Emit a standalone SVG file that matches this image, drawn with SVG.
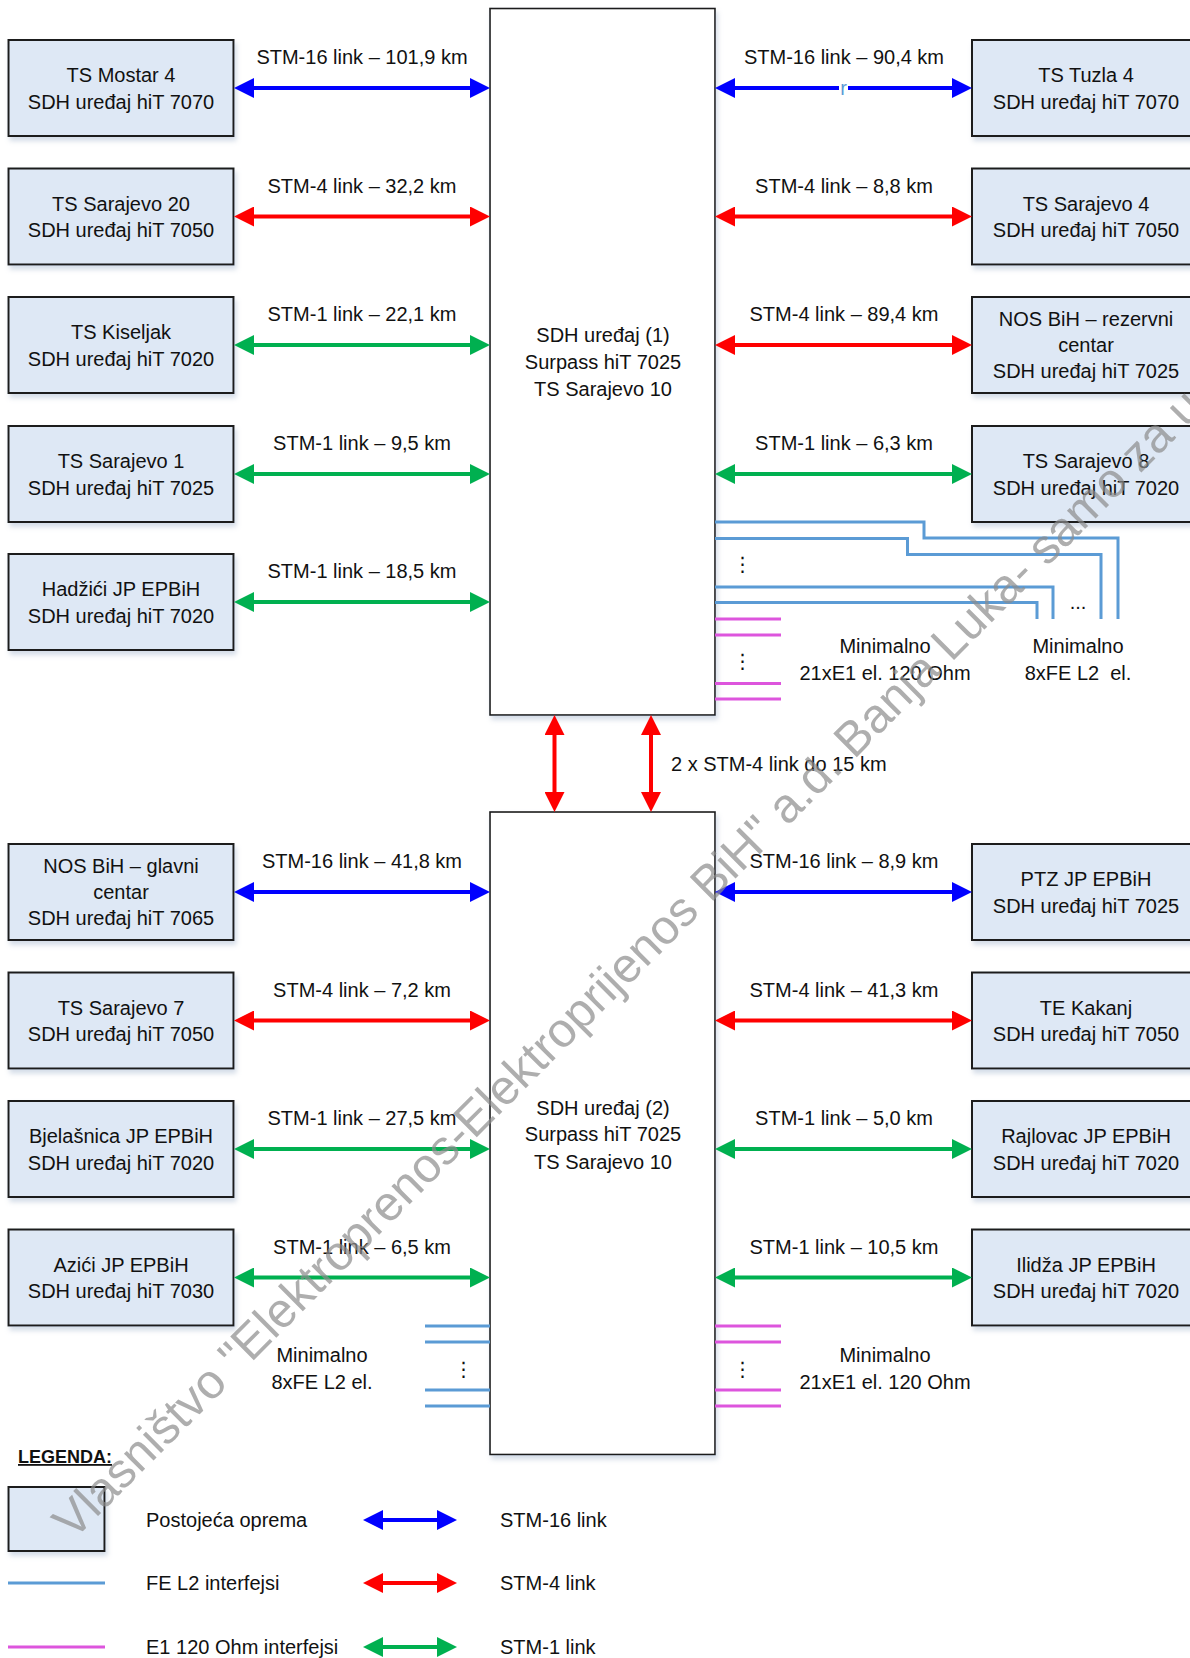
<svg xmlns="http://www.w3.org/2000/svg" width="1190" height="1658" viewBox="0 0 1190 1658">
<defs>
<style>
.bg{fill:#ffffff}
.nb{fill:#DEE8F5;stroke:#1a1a1a;stroke-width:2;filter:url(#sh)}
.big{fill:#ffffff;stroke:#1a1a1a;stroke-width:1.6;filter:url(#sh)}
.t{font-family:"Liberation Sans",Arial,sans-serif;font-size:20px;fill:#111;text-anchor:middle}
.ts{font-family:"Liberation Sans",Arial,sans-serif;font-size:20px;fill:#111}
.lg{font-family:"Liberation Sans",Arial,sans-serif;font-size:18px;font-weight:bold;fill:#111;text-decoration:underline}
.dots{font-family:"DejaVu Sans",sans-serif;font-size:20px;fill:#111;text-anchor:middle}
.ab{stroke:#0000FF;stroke-width:4;fill:none;marker-start:url(#mb);marker-end:url(#mb)}
.ar{stroke:#FF0000;stroke-width:4;fill:none;marker-start:url(#mr);marker-end:url(#mr)}
.ag{stroke:#00B050;stroke-width:4;fill:none;marker-start:url(#mg);marker-end:url(#mg)}
.fe{stroke:#5B9BD5;stroke-width:3;fill:none}
.e1{stroke:#DD55DD;stroke-width:3;fill:none}
.wm{font-family:"Liberation Sans",Arial,sans-serif;font-size:48.5px;fill:#8c8c8c;fill-opacity:0.7}
</style>
<filter id="sh" x="-10%" y="-10%" width="125%" height="130%">
<feDropShadow dx="2" dy="4" stdDeviation="2.5" flood-color="#9fb2cc" flood-opacity="0.45"/>
</filter>
<marker id="mb" viewBox="0 0 20 20" markerWidth="20" markerHeight="20" refX="2" refY="10" markerUnits="userSpaceOnUse" orient="auto-start-reverse"><path d="M0,0 L20,10 L0,20 z" fill="#0000FF"/></marker>
<marker id="mr" viewBox="0 0 20 20" markerWidth="20" markerHeight="20" refX="2" refY="10" markerUnits="userSpaceOnUse" orient="auto-start-reverse"><path d="M0,0 L20,10 L0,20 z" fill="#FF0000"/></marker>
<marker id="mg" viewBox="0 0 20 20" markerWidth="20" markerHeight="20" refX="2" refY="10" markerUnits="userSpaceOnUse" orient="auto-start-reverse"><path d="M0,0 L20,10 L0,20 z" fill="#00B050"/></marker>
</defs>
<rect class="bg" x="0" y="0" width="1190" height="1658"/>

<!-- central devices -->
<g id="sdh1">
<rect class="big" x="490" y="8.5" width="225" height="706.5"/>
<text class="t"><tspan x="603" y="342">SDH uređaj (1)</tspan><tspan x="603" y="369">Surpass hiT 7025</tspan><tspan x="603" y="396">TS Sarajevo 10</tspan></text>
</g>
<g id="sdh2">
<rect class="big" x="490" y="812" width="225" height="642.5"/>
<text class="t"><tspan x="603" y="1114.5">SDH uređaj (2)</tspan><tspan x="603" y="1141">Surpass hiT 7025</tspan><tspan x="603" y="1168.5">TS Sarajevo 10</tspan></text>
</g>

<!-- left top nodes -->
<g id="mostar4"><rect class="nb" x="8.5" y="40" width="225" height="96"/>
<text class="t"><tspan x="121" y="82">TS Mostar 4</tspan><tspan x="121" y="108.5">SDH uređaj hiT 7070</tspan></text></g>
<g id="sarajevo20"><rect class="nb" x="8.5" y="168.5" width="225" height="96"/>
<text class="t"><tspan x="121" y="210.5">TS Sarajevo 20</tspan><tspan x="121" y="237">SDH uređaj hiT 7050</tspan></text></g>
<g id="kiseljak"><rect class="nb" x="8.5" y="297" width="225" height="96"/>
<text class="t"><tspan x="121" y="339">TS Kiseljak</tspan><tspan x="121" y="365.5">SDH uređaj hiT 7020</tspan></text></g>
<g id="sarajevo1"><rect class="nb" x="8.5" y="426" width="225" height="96"/>
<text class="t"><tspan x="121" y="468">TS Sarajevo 1</tspan><tspan x="121" y="494.5">SDH uređaj hiT 7025</tspan></text></g>
<g id="hadzici"><rect class="nb" x="8.5" y="554" width="225" height="96"/>
<text class="t"><tspan x="121" y="596">Hadžići JP EPBiH</tspan><tspan x="121" y="622.5">SDH uređaj hiT 7020</tspan></text></g>

<!-- right top nodes -->
<g id="tuzla4"><rect class="nb" x="972" y="40" width="228" height="96"/>
<text class="t"><tspan x="1086" y="82">TS Tuzla 4</tspan><tspan x="1086" y="108.5">SDH uređaj hiT 7070</tspan></text></g>
<g id="sarajevo4"><rect class="nb" x="972" y="168.5" width="228" height="96"/>
<text class="t"><tspan x="1086" y="210.5">TS Sarajevo 4</tspan><tspan x="1086" y="237">SDH uređaj hiT 7050</tspan></text></g>
<g id="nos-rezervni"><rect class="nb" x="972" y="297" width="228" height="96"/>
<text class="t"><tspan x="1086" y="326">NOS BiH – rezervni</tspan><tspan x="1086" y="352">centar</tspan><tspan x="1086" y="378">SDH uređaj hiT 7025</tspan></text></g>
<g id="sarajevo8"><rect class="nb" x="972" y="426" width="228" height="96"/>
<text class="t"><tspan x="1086" y="468">TS Sarajevo 8</tspan><tspan x="1086" y="494.5">SDH uređaj hiT 7020</tspan></text></g>

<!-- left bottom nodes -->
<g id="nos-glavni"><rect class="nb" x="8.5" y="844" width="225" height="96"/>
<text class="t"><tspan x="121" y="873">NOS BiH – glavni</tspan><tspan x="121" y="899">centar</tspan><tspan x="121" y="925">SDH uređaj hiT 7065</tspan></text></g>
<g id="sarajevo7"><rect class="nb" x="8.5" y="972.5" width="225" height="96"/>
<text class="t"><tspan x="121" y="1014.5">TS Sarajevo 7</tspan><tspan x="121" y="1041">SDH uređaj hiT 7050</tspan></text></g>
<g id="bjelasnica"><rect class="nb" x="8.5" y="1101" width="225" height="96"/>
<text class="t"><tspan x="121" y="1143">Bjelašnica JP EPBiH</tspan><tspan x="121" y="1169.5">SDH uređaj hiT 7020</tspan></text></g>
<g id="azici"><rect class="nb" x="8.5" y="1229.5" width="225" height="96"/>
<text class="t"><tspan x="121" y="1271.5">Azići JP EPBiH</tspan><tspan x="121" y="1298">SDH uređaj hiT 7030</tspan></text></g>

<!-- right bottom nodes -->
<g id="ptz"><rect class="nb" x="972" y="844" width="228" height="96"/>
<text class="t"><tspan x="1086" y="886">PTZ JP EPBiH</tspan><tspan x="1086" y="912.5">SDH uređaj hiT 7025</tspan></text></g>
<g id="kakanj"><rect class="nb" x="972" y="972.5" width="228" height="96"/>
<text class="t"><tspan x="1086" y="1014.5">TE Kakanj</tspan><tspan x="1086" y="1041">SDH uređaj hiT 7050</tspan></text></g>
<g id="rajlovac"><rect class="nb" x="972" y="1101" width="228" height="96"/>
<text class="t"><tspan x="1086" y="1143">Rajlovac JP EPBiH</tspan><tspan x="1086" y="1169.5">SDH uređaj hiT 7020</tspan></text></g>
<g id="ilidza"><rect class="nb" x="972" y="1229.5" width="228" height="96"/>
<text class="t"><tspan x="1086" y="1271.5">Ilidža JP EPBiH</tspan><tspan x="1086" y="1298">SDH uređaj hiT 7020</tspan></text></g>

<!-- connectors -->
<g id="connectors">
<path class="ab" d="M252,88 H472"/>
<path class="ar" d="M252,216.5 H472"/>
<path class="ag" d="M252,345 H472"/>
<path class="ag" d="M252,474 H472"/>
<path class="ag" d="M252,602 H472"/>
<path class="ab" d="M733,88 H954"/>
<path class="ar" d="M733,216.5 H954"/>
<path class="ar" d="M733,345 H954"/>
<path class="ag" d="M733,474 H954"/>
<path class="ar" d="M554.5,733 V794"/>
<path class="ar" d="M651,733 V794"/>
<path class="ab" d="M252,892 H472"/>
<path class="ar" d="M252,1020.5 H472"/>
<path class="ag" d="M252,1149 H472"/>
<path class="ag" d="M252,1277.5 H472"/>
<path class="ab" d="M733,892 H954"/>
<path class="ar" d="M733,1020.5 H954"/>
<path class="ag" d="M733,1149 H954"/>
<path class="ag" d="M733,1277.5 H954"/>
</g>
<g id="link-labels">
<text class="t" x="362" y="64">STM-16 link – 101,9 km</text>
<text class="t" x="362" y="192.5">STM-4 link – 32,2 km</text>
<text class="t" x="362" y="321">STM-1 link – 22,1 km</text>
<text class="t" x="362" y="450">STM-1 link – 9,5 km</text>
<text class="t" x="362" y="578">STM-1 link – 18,5 km</text>
<text class="t" x="844" y="64">STM-16 link – 90,4 km</text>
<text class="t" x="844" y="192.5">STM-4 link – 8,8 km</text>
<text class="t" x="844" y="321">STM-4 link – 89,4 km</text>
<text class="t" x="844" y="450">STM-1 link – 6,3 km</text>
<text class="ts" x="671" y="771">2 x STM-4 link do 15 km</text>
<text class="t" x="362" y="868">STM-16 link – 41,8 km</text>
<text class="t" x="362" y="996.5">STM-4 link – 7,2 km</text>
<text class="t" x="362" y="1125">STM-1 link – 27,5 km</text>
<text class="t" x="362" y="1253.5">STM-1 link – 6,5 km</text>
<text class="t" x="844" y="868">STM-16 link – 8,9 km</text>
<text class="t" x="844" y="996.5">STM-4 link – 41,3 km</text>
<text class="t" x="844" y="1125">STM-1 link – 5,0 km</text>
<text class="t" x="844" y="1253.5">STM-1 link – 10,5 km</text>
<rect x="839" y="82" width="9" height="13" fill="#ffffff"/>
<text class="t" x="843.5" y="95" style="fill:#5B9BD5">r</text>
</g>

<!-- interfaces -->
<g id="interfaces">
<path class="fe" d="M715,522 H924 V538 H1118 V619"/>
<path class="fe" d="M715,538.5 H907.5 V554.5 H1101 V619"/>
<path class="fe" d="M715,587 H1053 V619"/>
<path class="fe" d="M715,602.5 H1037 V619"/>
<path class="e1" d="M715,619 H781 M715,635 H781 M715,683.5 H781 M715,699 H781"/>
<path class="e1" d="M715,1326 H781 M715,1342 H781 M715,1390 H781 M715,1406 H781"/>
<path class="fe" d="M425,1326 H490 M425,1342 H490 M425,1390 H490 M425,1406 H490"/>
<text class="dots" x="742.5" y="571">⋮</text>
<text class="dots" x="742.5" y="668">⋮</text>
<text class="dots" x="742.5" y="1376">⋮</text>
<text class="dots" x="463.5" y="1376">⋮</text>
<text class="t" x="1078" y="609">...</text>
<text class="t"><tspan x="885" y="653">Minimalno</tspan><tspan x="885" y="680">21xE1 el. 120 Ohm</tspan></text>
<text class="t"><tspan x="1078" y="653">Minimalno</tspan><tspan x="1078" y="680">8xFE L2&#160; el.</tspan></text>
<text class="t"><tspan x="322" y="1362">Minimalno</tspan><tspan x="322" y="1389">8xFE L2 el.</tspan></text>
<text class="t"><tspan x="885" y="1362">Minimalno</tspan><tspan x="885" y="1389">21xE1 el. 120 Ohm</tspan></text>
</g>

<!-- legend -->
<g id="legend">
<text class="lg" x="18" y="1463">LEGENDA:</text>
<rect class="nb" x="8.5" y="1487" width="96" height="64"/>
<text class="ts" x="146" y="1527">Postojeća oprema</text>
<path class="fe" d="M8,1583 H105"/>
<text class="ts" x="146" y="1590">FE L2 interfejsi</text>
<path class="e1" d="M8,1647 H105"/>
<text class="ts" x="146" y="1654">E1 120 Ohm interfejsi</text>
<path class="ab" d="M381,1520 H439"/>
<path class="ar" d="M381,1583 H439"/>
<path class="ag" d="M381,1647 H439"/>
<text class="ts" x="500" y="1527">STM-16 link</text>
<text class="ts" x="500" y="1590">STM-4 link</text>
<text class="ts" x="500" y="1654">STM-1 link</text>
</g>

<!-- watermark -->
<text class="wm" x="73" y="1541" transform="rotate(-45 73 1541)">Vlasništvo "Elektroprenos-Elektroprijenos BiH" a.d. Banja Luka- samo za u</text>
</svg>
